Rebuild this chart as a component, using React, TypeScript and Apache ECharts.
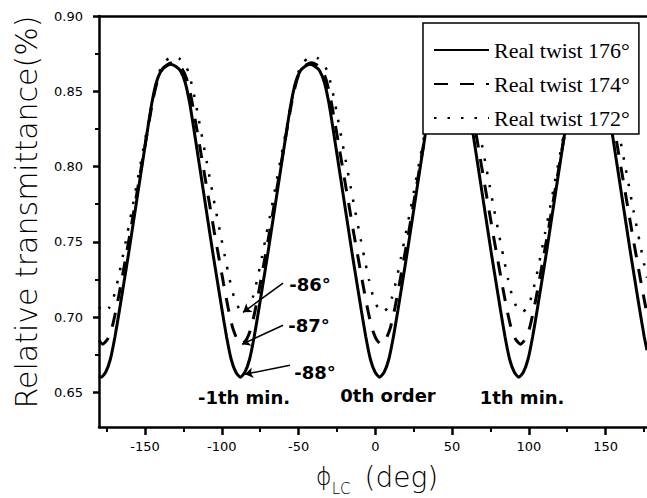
import React, { useEffect, useRef } from "react";
import * as echarts from "echarts";

const seriesNames = ["Real twist 176°", "Real twist 174°", "Real twist 172°"];

const solidX = [
  -180, -178.6,
  -175.6, -172.6, -169.6, -166.6, -163.6, -160.6, -157.6, -154.6, -151.6, -148.6, -145.6, -142.6, -139.6, -136.6,
  -133.25,
  -129.9, -126.9, -123.9, -120.9, -117.9, -114.9, -111.9, -108.9, -105.9, -102.9, -99.9, -96.9, -93.9, -90.9,
  -87.9,
  -84.9, -81.9, -78.9, -75.9, -72.9, -69.9, -66.9, -63.9, -60.9, -57.9, -54.9, -51.9, -48.9, -45.9,
  -42.55,
  -39.2, -36.2, -33.2, -30.2, -27.2, -24.2, -21.2, -18.2, -15.2, -12.2, -9.2, -6.2, -3.2, -0.2,
  2.8,
  5.8, 8.8, 11.8, 14.8, 17.8, 20.8, 23.8, 26.8, 29.8, 32.8, 35.8, 38.8, 41.8, 44.8,
  48.15,
  51.5, 54.5, 57.5, 60.5, 63.5, 66.5, 69.5, 72.5, 75.5, 78.5, 81.5, 84.5, 87.5, 90.5,
  93.5,
  96.5, 99.5, 102.5, 105.5, 108.5, 111.5, 114.5, 117.5, 120.5, 123.5, 126.5, 129.5, 132.5, 135.5,
  138.85,
  142.2, 145.2, 148.2, 151.2, 154.2, 157.2, 160.2, 163.2, 166.2, 169.2, 172.2, 175.2,
  177,
];
const solidY = [
  0.6608, 0.66,
  0.6635, 0.672, 0.687, 0.705, 0.724, 0.743, 0.763, 0.783, 0.803, 0.823, 0.842, 0.856, 0.8635, 0.8665,
  0.868,
  0.8665, 0.8635, 0.856, 0.842, 0.823, 0.803, 0.783, 0.763, 0.743, 0.724, 0.705, 0.687, 0.672, 0.6635,
  0.66,
  0.6635, 0.672, 0.687, 0.705, 0.724, 0.743, 0.763, 0.783, 0.803, 0.823, 0.842, 0.856, 0.8635, 0.8665,
  0.868,
  0.8665, 0.8635, 0.856, 0.842, 0.823, 0.803, 0.783, 0.763, 0.743, 0.724, 0.705, 0.687, 0.672, 0.6635,
  0.66,
  0.6635, 0.672, 0.687, 0.705, 0.724, 0.743, 0.763, 0.783, 0.803, 0.823, 0.842, 0.856, 0.8635, 0.8665,
  0.868,
  0.8665, 0.8635, 0.856, 0.842, 0.823, 0.803, 0.783, 0.763, 0.743, 0.724, 0.705, 0.687, 0.672, 0.6635,
  0.66,
  0.6635, 0.672, 0.687, 0.705, 0.724, 0.743, 0.763, 0.783, 0.803, 0.823, 0.842, 0.856, 0.8635, 0.8665,
  0.868,
  0.8665, 0.8635, 0.856, 0.842, 0.823, 0.803, 0.783, 0.763, 0.743, 0.724, 0.705, 0.687,
  0.678,
];

const dashedX = [
  -180, -177.6,
  -174.6, -171.6, -168.6, -165.6, -162.6, -159.6, -156.6, -153.6, -150.6, -147.6, -144.6, -141.6, -138.6, -135.6,
  -132.25,
  -128.9, -125.9, -122.9, -119.9, -116.9, -113.9, -110.9, -107.9, -104.9, -101.9, -98.9, -95.9, -92.9, -89.9,
  -86.9,
  -83.9, -80.9, -77.9, -74.9, -71.9, -68.9, -65.9, -62.9, -59.9, -56.9, -53.9, -50.9, -47.9, -44.9,
  -41.55,
  -38.2, -35.2, -32.2, -29.2, -26.2, -23.2, -20.2, -17.2, -14.2, -11.2, -8.2, -5.2, -2.2, 0.8,
  3.8,
  6.8, 9.8, 12.8, 15.8, 18.8, 21.8, 24.8, 27.8, 30.8, 33.8, 36.8, 39.8, 42.8, 45.8,
  49.15,
  52.5, 55.5, 58.5, 61.5, 64.5, 67.5, 70.5, 73.5, 76.5, 79.5, 82.5, 85.5, 88.5, 91.5,
  94.5,
  97.5, 100.5, 103.5, 106.5, 109.5, 112.5, 115.5, 118.5, 121.5, 124.5, 127.5, 130.5, 133.5, 136.5,
  139.85,
  143.2, 146.2, 149.2, 152.2, 155.2, 158.2, 161.2, 164.2, 167.2, 170.2, 173.2, 176.2,
  177,
];
const dashedY = [
  0.6845, 0.682,
  0.6851, 0.6928, 0.7063, 0.7225, 0.7395, 0.7566, 0.7746, 0.7926, 0.8106, 0.8285, 0.8456, 0.8582, 0.8649, 0.8676,
  0.869,
  0.8676, 0.8649, 0.8582, 0.8456, 0.8285, 0.8106, 0.7926, 0.7746, 0.7566, 0.7395, 0.7225, 0.7063, 0.6928, 0.6851,
  0.682,
  0.6851, 0.6928, 0.7063, 0.7225, 0.7395, 0.7566, 0.7746, 0.7926, 0.8106, 0.8285, 0.8456, 0.8582, 0.8649, 0.8676,
  0.869,
  0.8676, 0.8649, 0.8582, 0.8456, 0.8285, 0.8106, 0.7926, 0.7746, 0.7566, 0.7395, 0.7225, 0.7063, 0.6928, 0.6851,
  0.682,
  0.6851, 0.6928, 0.7063, 0.7225, 0.7395, 0.7566, 0.7746, 0.7926, 0.8106, 0.8285, 0.8456, 0.8582, 0.8649, 0.8676,
  0.869,
  0.8676, 0.8649, 0.8582, 0.8456, 0.8285, 0.8106, 0.7926, 0.7746, 0.7566, 0.7395, 0.7225, 0.7063, 0.6928, 0.6851,
  0.682,
  0.6851, 0.6928, 0.7063, 0.7225, 0.7395, 0.7566, 0.7746, 0.7926, 0.8106, 0.8285, 0.8456, 0.8582, 0.8649, 0.8676,
  0.869,
  0.8676, 0.8649, 0.8582, 0.8456, 0.8285, 0.8106, 0.7926, 0.7746, 0.7566, 0.7395, 0.7225, 0.7063,
  0.7027,
];

const dottedX = [
  -180, -176.6,
  -173.6, -170.6, -167.6, -164.6, -161.6, -158.6, -155.6, -152.6, -149.6, -146.6, -143.6, -140.6, -137.6, -134.6,
  -131.25,
  -127.9, -124.9, -121.9, -118.9, -115.9, -112.9, -109.9, -106.9, -103.9, -100.9, -97.9, -94.9, -91.9, -88.9,
  -85.9,
  -82.9, -79.9, -76.9, -73.9, -70.9, -67.9, -64.9, -61.9, -58.9, -55.9, -52.9, -49.9, -46.9, -43.9,
  -40.55,
  -37.2, -34.2, -31.2, -28.2, -25.2, -22.2, -19.2, -16.2, -13.2, -10.2, -7.2, -4.2, -1.2, 1.8,
  4.8,
  7.8, 10.8, 13.8, 16.8, 19.8, 22.8, 25.8, 28.8, 31.8, 34.8, 37.8, 40.8, 43.8, 46.8,
  50.15,
  53.5, 56.5, 59.5, 62.5, 65.5, 68.5, 71.5, 74.5, 77.5, 80.5, 83.5, 86.5, 89.5, 92.5,
  95.5,
  98.5, 101.5, 104.5, 107.5, 110.5, 113.5, 116.5, 119.5, 122.5, 125.5, 128.5, 131.5, 134.5, 137.5,
  140.85,
  144.2, 147.2, 150.2, 153.2, 156.2, 159.2, 162.2, 165.2, 168.2, 171.2, 174.2,
  177,
];
const dottedY = [
  0.7068, 0.703,
  0.7059, 0.7128, 0.7251, 0.7398, 0.7553, 0.7708, 0.7872, 0.8035, 0.8199, 0.8362, 0.8517, 0.8632, 0.8693, 0.8718,
  0.873,
  0.8718, 0.8693, 0.8632, 0.8517, 0.8362, 0.8199, 0.8035, 0.7872, 0.7708, 0.7553, 0.7398, 0.7251, 0.7128, 0.7059,
  0.703,
  0.7059, 0.7128, 0.7251, 0.7398, 0.7553, 0.7708, 0.7872, 0.8035, 0.8199, 0.8362, 0.8517, 0.8632, 0.8693, 0.8718,
  0.873,
  0.8718, 0.8693, 0.8632, 0.8517, 0.8362, 0.8199, 0.8035, 0.7872, 0.7708, 0.7553, 0.7398, 0.7251, 0.7128, 0.7059,
  0.703,
  0.7059, 0.7128, 0.7251, 0.7398, 0.7553, 0.7708, 0.7872, 0.8035, 0.8199, 0.8362, 0.8517, 0.8632, 0.8693, 0.8718,
  0.873,
  0.8718, 0.8693, 0.8632, 0.8517, 0.8362, 0.8199, 0.8035, 0.7872, 0.7708, 0.7553, 0.7398, 0.7251, 0.7128, 0.7059,
  0.703,
  0.7059, 0.7128, 0.7251, 0.7398, 0.7553, 0.7708, 0.7872, 0.8035, 0.8199, 0.8362, 0.8517, 0.8632, 0.8693, 0.8718,
  0.873,
  0.8718, 0.8693, 0.8632, 0.8517, 0.8362, 0.8199, 0.8035, 0.7872, 0.7708, 0.7553, 0.7398,
  0.7261,
];

const majorXTicks = [-150, -100, -50, 0, 50, 100, 150];
const minorXTicks = [-175, -125, -75, -25, 25, 75, 125, 175];
const majorYTicks = [0.65, 0.7, 0.75, 0.8, 0.85, 0.9];
const minorYTicks = [0.675, 0.725, 0.775, 0.825, 0.875];

const annoText = ["-86°", "-87°", "-88°", "-1th min.", "0th order", "1th min."];
const annoX = [-42.5, -43.2, -39.3, -85.5, 8.3, 95.6];
const annoY = [0.7215, 0.6945, 0.6635, 0.6465, 0.6478, 0.6465];

const arrowFrom = [
  [-60.1, 0.7225],
  [-60.1, 0.6946],
  [-55.6, 0.668],
];
const arrowTo = [
  [-86.2, 0.7032],
  [-86.8, 0.682],
  [-84.9, 0.662],
];

const pairs = (xs: number[], ys: number[]) => xs.map((x, i) => [x, ys[i]]);

export default function App() {
  const ref = useRef<HTMLDivElement>(null);

  useEffect(() => {
    if (!ref.current) return;
    const chart = echarts.init(ref.current, undefined, { renderer: "svg" });
    const tickFont = { fontFamily: "DejaVu Sans", fontSize: 13, color: "#000" };
    const nameFont = { fontFamily: "DejaVu Sans", fontWeight: 200, color: "#000" };
    const option: any = {
      animation: false,
      backgroundColor: "#fff",
      grid: { left: 99, right: 0, top: 16, bottom: 71, containLabel: false, outerBoundsMode: "none" },
      legend: {
        data: seriesNames,
        orient: "vertical",
        left: 423,
        top: 23,
        itemWidth: 55,
        itemHeight: 14,
        itemGap: 10,
        padding: [15, 9, 4, 10],
        borderColor: "#000",
        borderWidth: 1.5,
        backgroundColor: "#fff",
        itemStyle: { color: "rgba(0,0,0,0)", borderWidth: 0, opacity: 0 },
        textStyle: { fontFamily: "Liberation Serif", fontSize: 22, color: "#000", lineHeight: 24 },
      },
      xAxis: [
        {
          type: "value",
          min: -180,
          max: 177,
          position: "bottom",
          splitLine: { show: false },
          axisLine: { show: true, onZero: false, lineStyle: { color: "#000", width: 2.5 } },
          axisTick: { show: true, customValues: majorXTicks, length: 8, lineStyle: { color: "#000", width: 2.5 } },
          axisLabel: { customValues: majorXTicks, margin: 13, ...tickFont },
          name: "{phi|ϕ}{sub|LC}{gap|}{deg|(deg)}",
          nameLocation: "middle",
          nameGap: 31,
          nameTextStyle: {
            padding: [0, 0, 0, 8],
            rich: {
              phi: { ...nameFont, fontSize: 24, lineHeight: 38, verticalAlign: "middle" },
              sub: { ...nameFont, fontSize: 15, lineHeight: 14, verticalAlign: "bottom" },
              gap: { width: 14, lineHeight: 38 },
              deg: { ...nameFont, fontSize: 28, lineHeight: 38, verticalAlign: "middle" },
            },
          },
        },
        {
          type: "value",
          min: -180,
          max: 177,
          position: "bottom",
          splitLine: { show: false },
          axisLine: { show: false, onZero: false },
          axisTick: { show: true, customValues: minorXTicks, length: 5, lineStyle: { color: "#000", width: 2 } },
          axisLabel: { show: false },
        },
        {
          type: "value",
          min: -180,
          max: 177,
          position: "top",
          splitLine: { show: false },
          axisLine: { show: true, onZero: false, lineStyle: { color: "#000", width: 2.5 } },
          axisTick: { show: false },
          axisLabel: { show: false },
        },
      ],
      yAxis: [
        {
          type: "value",
          min: 0.627,
          max: 0.9,
          position: "left",
          splitLine: { show: false },
          axisLine: { show: true, onZero: false, lineStyle: { color: "#000", width: 2.5 } },
          axisTick: { show: true, customValues: majorYTicks, length: 6, lineStyle: { color: "#000", width: 2.5 } },
          axisLabel: {
            customValues: majorYTicks,
            margin: 16,
            formatter: (v: number) => v.toFixed(2),
            ...tickFont,
          },
          name: "Relative transmittance(%)",
          nameLocation: "middle",
          nameGap: 53,
          nameTextStyle: {
            ...nameFont,
            fontSize: 30,
            lineHeight: 34,
            padding: [0, 0, 0, 19],
          },
        },
        {
          type: "value",
          min: 0.627,
          max: 0.9,
          position: "left",
          splitLine: { show: false },
          axisLine: { show: false, onZero: false },
          axisTick: { show: true, customValues: minorYTicks, length: 4, lineStyle: { color: "#000", width: 2 } },
          axisLabel: { show: false },
        },
      ],
      series: [
        {
          name: seriesNames[2],
          type: "line",
          data: pairs(dottedX, dottedY),
          symbol: "none",
          showSymbol: false,
          smooth: 0.2,
          lineStyle: { color: "#000", width: 2.5, type: [2.5, 11] },
          itemStyle: { color: "#000" },
          z: 2,
        },
        {
          name: seriesNames[1],
          type: "line",
          data: pairs(dashedX, dashedY),
          symbol: "none",
          showSymbol: false,
          smooth: 0.2,
          lineStyle: { color: "#000", width: 3, type: [14, 12] },
          itemStyle: { color: "#000" },
          z: 2,
        },
        {
          name: seriesNames[0],
          type: "line",
          data: pairs(solidX, solidY),
          symbol: "none",
          showSymbol: false,
          smooth: 0.2,
          lineStyle: { color: "#000", width: 3, type: "solid" },
          itemStyle: { color: "#000" },
          z: 3,
          markLine: {
            silent: true,
            symbol: ["none", "arrow"],
            symbolSize: 8,
            lineStyle: { color: "#000", width: 1.5, type: "solid" },
            label: { show: false },
            data: arrowFrom.map((f, i) => [{ coord: f }, { coord: arrowTo[i] }]),
          },
          markPoint: {
            silent: true,
            symbol: "circle",
            symbolSize: 1,
            itemStyle: { color: "rgba(0,0,0,0)" },
            label: {
              show: true,
              position: "inside",
              color: "#000",
              fontFamily: "DejaVu Sans",
              fontWeight: "bold",
              fontSize: 18,
              formatter: (p: any) => p.name,
            },
            data: annoText.map((t, i) => ({ name: t, coord: [annoX[i], annoY[i]] })),
          },
        },
      ],
    };
    chart.setOption(option);
    return () => chart.dispose();
  }, []);

  return (
    <div
      ref={ref}
      style={{ position: "fixed", left: 0, top: 0, width: 647, height: 498, background: "#fff" }}
    />
  );
}
